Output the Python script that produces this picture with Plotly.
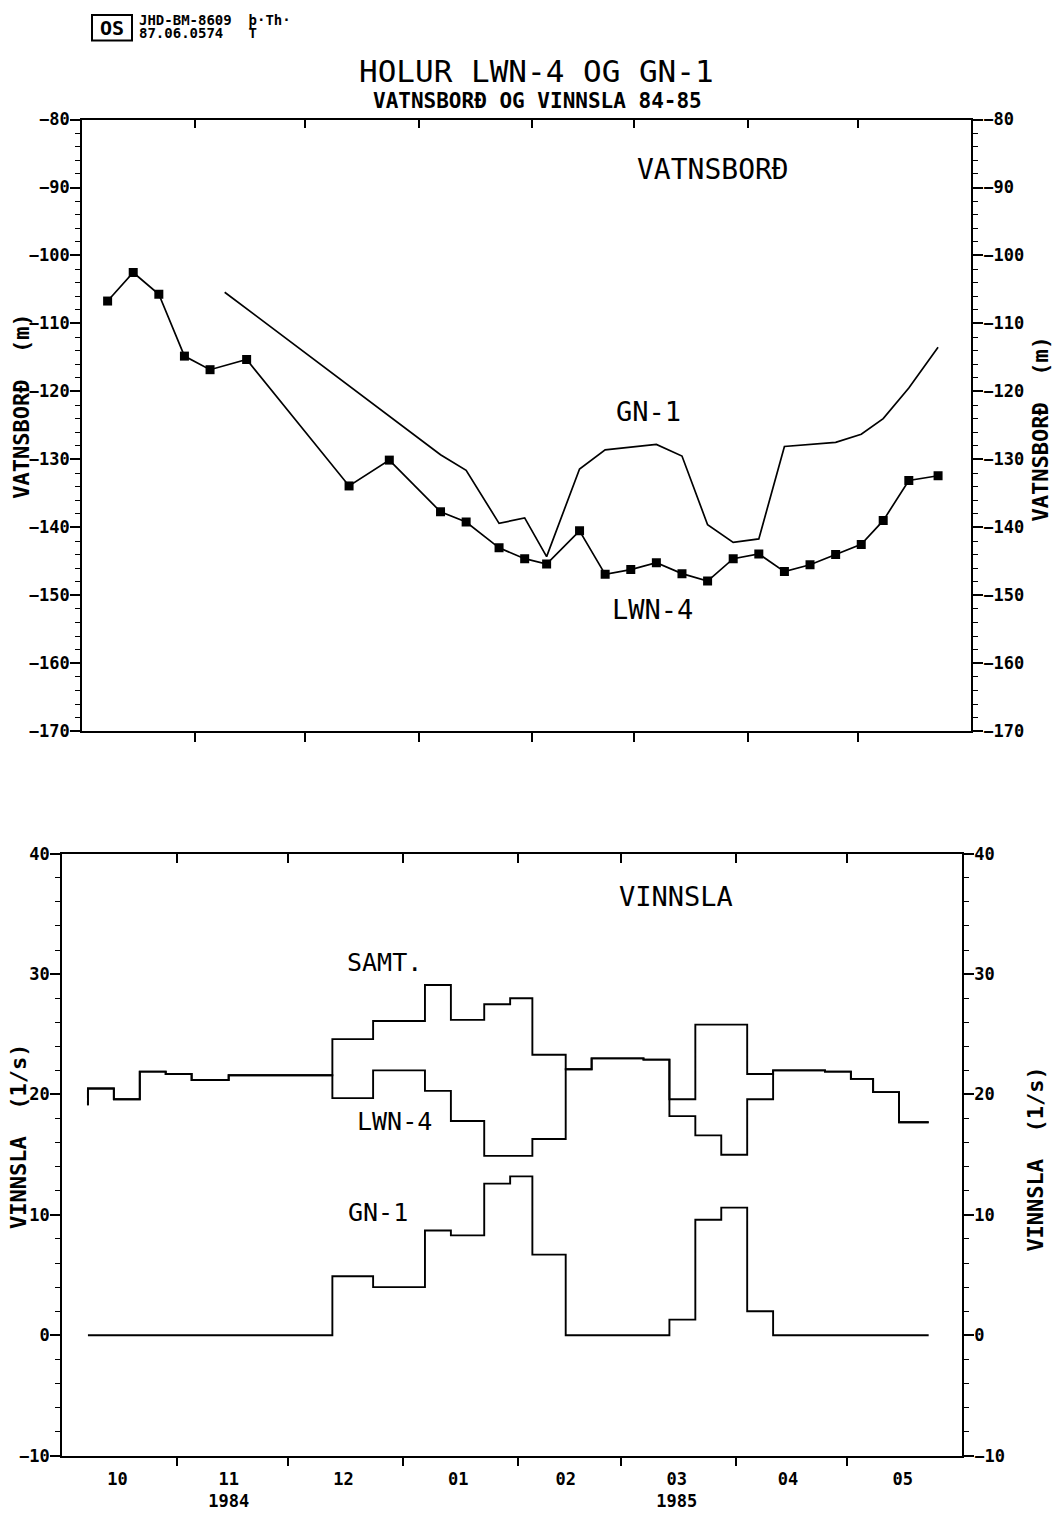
import plotly.graph_objects as go

# ---------------- data ----------------
measure_dates = ["1984-10-08", "1984-10-15", "1984-10-22", "1984-10-29", "1984-11-05",
                 "1984-11-15", "1984-12-13", "1984-12-24", "1985-01-07", "1985-01-14",
                 "1985-01-23", "1985-01-30", "1985-02-05", "1985-02-14", "1985-02-21",
                 "1985-02-28", "1985-03-07", "1985-03-14", "1985-03-21", "1985-03-28",
                 "1985-04-04", "1985-04-11", "1985-04-18", "1985-04-25", "1985-05-02",
                 "1985-05-08", "1985-05-15", "1985-05-23"]

lwn4_level = [-106.7, -102.5, -105.7, -114.8, -116.8, -115.3, -133.9, -130.1, -137.7,
              -139.2, -143.0, -144.6, -145.4, -140.5, -146.9, -146.2, -145.2, -146.8,
              -147.9, -144.6, -143.9, -146.5, -145.5, -144.0, -142.5, -139.0, -133.1, -132.4]

gn1_level_dates = ["1984-11-09", "1985-01-07", "1985-01-14", "1985-01-23", "1985-01-30",
                   "1985-02-05", "1985-02-14", "1985-02-21", "1985-03-07", "1985-03-14",
                   "1985-03-21", "1985-03-28", "1985-04-04", "1985-04-11", "1985-04-25",
                   "1985-05-02", "1985-05-08", "1985-05-15", "1985-05-23"]
gn1_level = [-105.4, -129.3, -131.6, -139.4, -138.6, -144.3, -131.4, -128.6, -127.8,
             -129.5, -139.6, -142.2, -141.7, -128.1, -127.5, -126.3, -124.0, -119.5, -113.5]

# flow (l/s) for each period between consecutive measure dates (27 periods)
samt_flow = [20.5, 19.6, 21.9, 21.7, 21.2, 21.6, 24.6, 26.1, 29.1, 26.2, 27.5, 28.0, 23.3,
             22.1, 23.0, 23.0, 22.9, 19.6, 25.8, 25.8, 21.7, 22.0, 22.0, 21.9, 21.3, 20.2, 17.7]
lwn4_flow = [20.5, 19.6, 21.9, 21.7, 21.2, 21.6, 19.7, 22.0, 20.3, 17.8, 14.9, 14.9, 16.3,
             22.1, 23.0, 23.0, 22.9, 18.2, 16.6, 15.0, 19.6, 22.0, 22.0, 21.9, 21.3, 20.2, 17.7]
gn1_flow = [0, 0, 0, 0, 0, 0, 4.9, 4.0, 8.7, 8.3, 12.6, 13.2, 6.7,
            0, 0, 0, 0, 1.3, 9.6, 10.6, 2.0, 0, 0, 0, 0, 0, 0]
flow_start_value = 19.1

x_range = ["1984-10-01", "1985-06-01"]
month_starts = ["1984-11-01", "1984-12-01", "1985-01-01", "1985-02-01",
                "1985-03-01", "1985-04-01", "1985-05-01"]
month_mids = ["1984-10-16", "1984-11-15", "1984-12-16", "1985-01-16",
              "1985-02-14", "1985-03-16", "1985-04-15", "1985-05-16"]
month_labels = ["10", "11<br>1984", "12", "01", "02", "03<br>1985", "04", "05"]

level_range = [-170, -80]
flow_range = [-10, 40]

# ---------------- figure ----------------
W, H = 1059, 1515
def px(x): return x / W
def py(y): return 1 - y / H

FONT = "DejaVu Sans Mono"
BLK = "black"

top_dx = [px(82), px(971)]
top_dy = [py(731), py(111)]
bot_dx = [px(62), px(962)]
bot_dy = [py(1465), py(855)]

fig = go.Figure()

fig.add_trace(go.Scatter(x=measure_dates, y=lwn4_level, mode="lines+markers",
                         line=dict(color=BLK, width=1.7),
                         marker=dict(symbol="square", size=9, color=BLK),
                         xaxis="x", yaxis="y", name="LWN-4", showlegend=False))
fig.add_trace(go.Scatter(x=gn1_level_dates, y=gn1_level, mode="lines",
                         line=dict(color=BLK, width=1.7),
                         xaxis="x3", yaxis="y3", name="GN-1", showlegend=False))

step_x = [measure_dates[0]] + measure_dates
fig.add_trace(go.Scatter(x=step_x, y=[flow_start_value] + samt_flow + [samt_flow[-1]],
                         mode="lines", line=dict(color=BLK, width=1.9, shape="hv"),
                         xaxis="x2", yaxis="y2", name="SAMT.", showlegend=False))
fig.add_trace(go.Scatter(x=step_x, y=[flow_start_value] + lwn4_flow + [lwn4_flow[-1]],
                         mode="lines", line=dict(color=BLK, width=1.9, shape="hv"),
                         xaxis="x2", yaxis="y2", name="LWN-4", showlegend=False))
fig.add_trace(go.Scatter(x=measure_dates, y=gn1_flow + [gn1_flow[-1]],
                         mode="lines", line=dict(color=BLK, width=1.9, shape="hv"),
                         xaxis="x4", yaxis="y4", name="GN-1", showlegend=False))

tickfont = dict(family=FONT, size=17, color=BLK, weight="bold")

def xaxis(domain, anchor, labels, side="bottom", overlay=None):
    d = dict(type="date", range=x_range, domain=domain, anchor=anchor, side=side,
             showline=True, linecolor=BLK, linewidth=1.6, showgrid=False, zeroline=False,
             tickmode="array", tickvals=month_mids, ticktext=month_labels,
             ticks="", showticklabels=labels, tickfont=tickfont,
             ticklabelstandoff=7,
             minor=dict(tickmode="array", tickvals=month_starts,
                        ticks="inside" if side == "top" else "outside",
                        ticklen=9, tickwidth=1.5, tickcolor=BLK))
    if overlay:
        d["overlaying"] = overlay
    return d

def yaxis(domain, anchor, rng, side="left", overlay=None):
    d = dict(range=rng, domain=domain, anchor=anchor, side=side,
             showline=True, linecolor=BLK, linewidth=1.6, showgrid=False, zeroline=False,
             tickmode="linear", tick0=rng[0], dtick=10, ticks="outside", ticklen=10,
             tickwidth=1.5, tickcolor=BLK, tickfont=tickfont, ticklabelstandoff=-3,
             minor=dict(dtick=2, tick0=rng[0], ticks="outside", ticklen=5,
                        tickwidth=1.2, tickcolor=BLK))
    if overlay:
        d["overlaying"] = overlay
    return d

fig.update_layout(
    width=W, height=H, margin=dict(l=0, r=0, t=0, b=0),
    paper_bgcolor="white", plot_bgcolor="white",
    xaxis=xaxis(top_dx, "y", False),
    xaxis3=xaxis(top_dx, "y", False, side="top", overlay="x"),
    yaxis=yaxis(top_dy, "x", level_range),
    yaxis3=yaxis(top_dy, "x", level_range, side="right", overlay="y"),
    xaxis2=xaxis(bot_dx, "y2", True),
    xaxis4=xaxis(bot_dx, "y2", False, side="top", overlay="x2"),
    yaxis2=yaxis(bot_dy, "x2", flow_range),
    yaxis4=yaxis(bot_dy, "x2", flow_range, side="right", overlay="y2"),
)

def txt(s, x, y, size, bold=False, xanchor="center", angle=0):
    fig.add_annotation(text=s, x=px(x), y=py(y), xref="paper", yref="paper",
                       showarrow=False, xanchor=xanchor, yanchor="middle", textangle=angle,
                       font=dict(family=FONT, size=size, color=BLK,
                                 weight="bold" if bold else "normal"))

# header
fig.add_shape(type="rect", x0=px(92), x1=px(132), y0=py(31), y1=py(5),
              xref="paper", yref="paper", line=dict(color=BLK, width=2))
txt("OS", 112, 18, 20, bold=True)
txt("JHD-BM-8609  þ·Th·", 137, 10, 14, bold=True, xanchor="left")
txt("87.06.0574   T", 137, 23, 14, bold=True, xanchor="left")

txt("HOLUR LWN-4 OG GN-1", 536, 62, 31)
txt("VATNSBORÐ OG VINNSLA 84-85", 537, 92, 21, bold=True)

# axis titles
txt("VATNSBORÐ  (m)", 22, 402, 22, bold=True, angle=-90)
txt("VATNSBORÐ  (m)", 1040, 425, 22, bold=True, angle=-90)
txt("VINNSLA  (1/s)", 19, 1142, 22, bold=True, angle=-90)
txt("VINNSLA  (1/s)", 1036, 1165, 22, bold=True, angle=-90)

# series labels
txt("VATNSBORÐ", 713, 162, 28)
txt("GN-1", 648, 407, 27)
txt("LWN-4", 652, 608, 27)

txt("VINNSLA", 676, 898, 27)
txt("SAMT.", 384, 965, 25)
txt("LWN-4", 394, 1126, 25)
txt("GN-1", 378, 1219, 25)

fig.write_html("out.html")
